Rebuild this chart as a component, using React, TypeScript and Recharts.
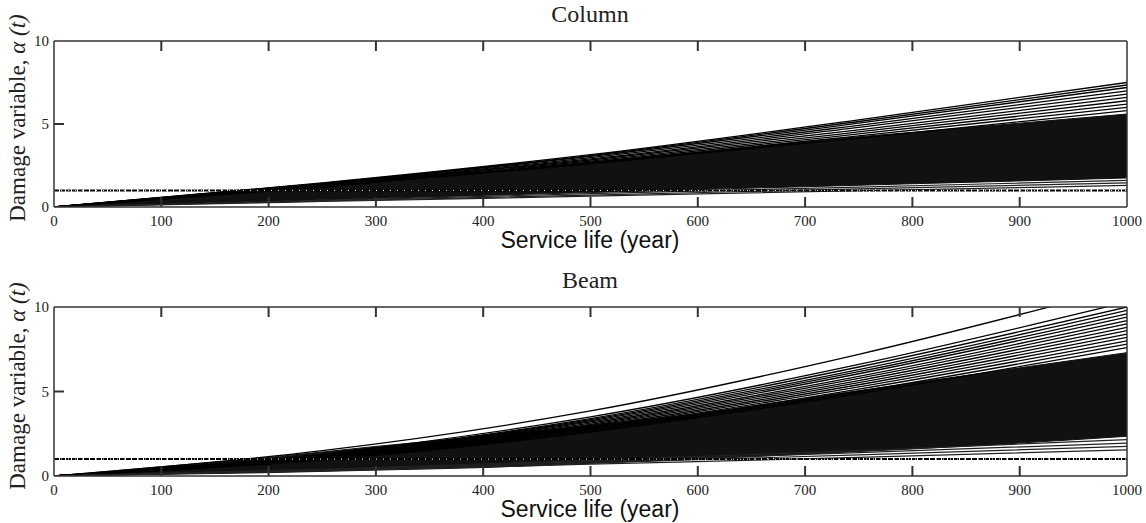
import React from 'react'
import { ComposedChart, Area, Line, XAxis, YAxis, ReferenceLine } from 'recharts'

// sampling years for the band envelopes
const years = [0, 100, 200, 300, 400, 500, 600, 700, 800, 900, 1000]
// sampling years for the individual outlying paths
const pathYears = [0, 250, 500, 750, 1000]
const xTicks = [0, 100, 200, 300, 400, 500, 600, 700, 800, 900, 1000]
const yTicks = [0, 5, 10]
const threshold = [1, 1]

// Column: dense fan of simulations
const columnBandLow = [0, 0.17, 0.35, 0.52, 0.7, 0.87, 1.05, 1.22, 1.4, 1.57, 1.75]
const columnBandHigh = [0, 0.5, 0.95, 1.45, 2.05, 2.7, 3.3, 3.95, 4.5, 5.05, 5.6]
const columnUpperPaths = [
    [0, 1.45, 3.15, 5.25, 7.5],
    [0, 1.42, 3.1, 5.15, 7.35],
    [0, 1.4, 3.05, 5.05, 7.2],
    [0, 1.37, 2.98, 4.92, 7.0],
    [0, 1.34, 2.9, 4.8, 6.8],
    [0, 1.31, 2.83, 4.65, 6.6],
    [0, 1.28, 2.76, 4.52, 6.4],
    [0, 1.25, 2.7, 4.4, 6.2],
    [0, 1.22, 2.65, 4.28, 6.0],
    [0, 1.2, 2.6, 4.15, 5.8],
]
const columnLowerPaths = [
    [0, 0.33, 0.65, 0.98, 1.3],
    [0, 0.36, 0.72, 1.09, 1.45],
    [0, 0.4, 0.8, 1.2, 1.6],
]

// Beam: dense fan of simulations
const beamBandLow = [0, 0.1, 0.2, 0.35, 0.5, 0.75, 1.0, 1.3, 1.6, 1.95, 2.35]
const beamBandHigh = [0, 0.55, 1.1, 1.75, 2.35, 3.0, 3.7, 4.6, 5.5, 6.4, 7.3]
const beamUpperPaths = [
    [0, 1.5, 3.85, 7.2, 11.2],
    [0, 1.3, 3.5, 6.6, 10.3],
    [0, 1.25, 3.4, 6.45, 10.0],
    [0, 1.22, 3.33, 6.3, 9.8],
    [0, 1.2, 3.27, 6.17, 9.6],
    [0, 1.18, 3.2, 6.05, 9.4],
    [0, 1.15, 3.13, 5.9, 9.2],
    [0, 1.13, 3.06, 5.78, 9.0],
    [0, 1.1, 3.0, 5.65, 8.8],
    [0, 1.08, 2.93, 5.52, 8.6],
    [0, 1.05, 2.86, 5.4, 8.4],
    [0, 1.03, 2.8, 5.27, 8.2],
    [0, 1.0, 2.73, 5.14, 8.0],
    [0, 0.98, 2.66, 5.0, 7.8],
    [0, 0.95, 2.6, 4.88, 7.6],
]
const beamLowerPaths = [
    [0, 0.3, 0.7, 1.1, 1.55],
    [0, 0.33, 0.78, 1.25, 1.75],
    [0, 0.37, 0.86, 1.38, 1.95],
    [0, 0.4, 0.93, 1.5, 2.15],
]

const serif = 'Liberation Serif'
const sans = 'Liberation Sans'
const frame = '#333'

const BottomLabel = (props: any) => {
    const { x, y, payload } = props
    return (
        <text x={x} y={y + 19} textAnchor="middle" fontFamily={serif} fontSize={15} fill="#222">
            {payload.value}
        </text>
    )
}

const LeftLabel = (props: any) => {
    const { x, y, payload } = props
    return (
        <text x={x - 5} y={y + 5} textAnchor="end" fontFamily={serif} fontSize={15} fill="#222">
            {payload.value}
        </text>
    )
}

interface PanelProps {
    title: string
    top: number
    height: number
    plotTop: number
    plotBottom: number
    bandLow: number[]
    bandHigh: number[]
    upperPaths: number[][]
    lowerPaths: number[][]
}

function Panel({ title, top, height, plotTop, plotBottom, bandLow, bandHigh, upperPaths, lowerPaths }: PanelProps) {
    const bandData = years.map((year, i) => ({ year, band: [bandLow[i], bandHigh[i]] }))
    const toPath = (vals: number[]) => pathYears.map((year, i) => ({ year, v: vals[i] }))
    const thresholdData = [{ year: 0, v: threshold[0] }, { year: 1000, v: threshold[1] }]
    // tick length of 10px expressed in axis units
    const tickY = (10 / (plotBottom - plotTop)) * 10
    const tickX = (10 / 1073) * 1000
    const innerX = xTicks.filter((t) => t > 0 && t < 1000)
    const innerY = yTicks.filter((t) => t > 0 && t < 10)

    return (
        <div style={{ position: 'absolute', left: 0, top, width: 1146, height }}>
            <div style={{ position: 'absolute', left: 0, width: 1180, top: plotTop - 40, textAlign: 'center', fontFamily: serif, fontSize: 24, color: '#222' }}>
                {title}
            </div>
            <ComposedChart
                width={1146}
                height={height}
                data={bandData}
                margin={{ top: plotTop, right: 19, bottom: height - plotBottom - 30, left: 14 }}
            >
                <XAxis
                    xAxisId="b"
                    dataKey="year"
                    type="number"
                    domain={[0, 1000]}
                    ticks={xTicks}
                    height={30}
                    tickSize={0}
                    tickMargin={0}
                    tickLine={false}
                    tick={<BottomLabel />}
                    stroke={frame}
                    strokeWidth={1.5}
                    allowDataOverflow
                />
                <XAxis
                    xAxisId="t"
                    orientation="top"
                    mirror
                    dataKey="year"
                    type="number"
                    domain={[0, 1000]}
                    height={10}
                    tick={false}
                    tickLine={false}
                    stroke={frame}
                    strokeWidth={1.5}
                />
                <YAxis
                    yAxisId="l"
                    type="number"
                    domain={[0, 10]}
                    ticks={yTicks}
                    width={40}
                    tickSize={0}
                    tickMargin={0}
                    tickLine={false}
                    tick={<LeftLabel />}
                    stroke={frame}
                    strokeWidth={1.5}
                    allowDataOverflow
                />
                <YAxis
                    yAxisId="r"
                    orientation="right"
                    mirror
                    type="number"
                    domain={[0, 10]}
                    width={10}
                    tick={false}
                    tickLine={false}
                    stroke={frame}
                    strokeWidth={1.5}
                />
                <Area
                    xAxisId="b"
                    yAxisId="l"
                    type="monotone"
                    dataKey="band"
                    fill="#111"
                    fillOpacity={1}
                    stroke="#111"
                    isAnimationActive={false}
                />
                {upperPaths.map((p, i) => (
                    <Line
                        key={'u' + i}
                        xAxisId="b"
                        yAxisId="l"
                        data={toPath(p)}
                        dataKey="v"
                        type="monotone"
                        stroke="#000"
                        strokeWidth={1.3}
                        dot={false}
                        isAnimationActive={false}
                    />
                ))}
                {lowerPaths.map((p, i) => (
                    <Line
                        key={'l' + i}
                        xAxisId="b"
                        yAxisId="l"
                        data={toPath(p)}
                        dataKey="v"
                        type="monotone"
                        stroke="#222"
                        strokeWidth={1.2}
                        dot={false}
                        isAnimationActive={false}
                    />
                ))}
                <Line
                    xAxisId="b"
                    yAxisId="l"
                    data={thresholdData}
                    dataKey="v"
                    type="linear"
                    stroke="#000"
                    strokeWidth={2}
                    strokeDasharray="5 1"
                    dot={false}
                    isAnimationActive={false}
                />
                <Line
                    xAxisId="b"
                    yAxisId="l"
                    data={thresholdData}
                    dataKey="v"
                    type="linear"
                    stroke="#fff"
                    strokeWidth={1}
                    strokeDasharray="1 6"
                    dot={false}
                    isAnimationActive={false}
                />
                {/* inward tick marks on bottom, top and left edges */}
                {innerX.map((t) => (
                    <ReferenceLine
                        key={'xb' + t}
                        xAxisId="b"
                        yAxisId="l"
                        segment={[{ x: t, y: 0 }, { x: t, y: tickY }]}
                        stroke={frame}
                        strokeWidth={2}
                        ifOverflow="visible"
                    />
                ))}
                {innerX.map((t) => (
                    <ReferenceLine
                        key={'xt' + t}
                        xAxisId="b"
                        yAxisId="l"
                        segment={[{ x: t, y: 10 }, { x: t, y: 10 - tickY }]}
                        stroke={frame}
                        strokeWidth={2}
                        ifOverflow="visible"
                    />
                ))}
                {innerY.map((t) => (
                    <ReferenceLine
                        key={'yl' + t}
                        xAxisId="b"
                        yAxisId="l"
                        segment={[{ x: 0, y: t }, { x: tickX, y: t }]}
                        stroke={frame}
                        strokeWidth={2}
                        ifOverflow="visible"
                    />
                ))}
            </ComposedChart>
            <div style={{ position: 'absolute', left: 0, width: 1180, top: plotBottom + 20, textAlign: 'center', fontFamily: sans, fontSize: 23, color: '#111' }}>
                Service life (year)
            </div>
            <div
                style={{
                    position: 'absolute',
                    left: 18 - 150,
                    top: (plotTop + plotBottom) / 2 - 6 - 13,
                    width: 300,
                    height: 26,
                    textAlign: 'center',
                    fontFamily: serif,
                    fontSize: 23,
                    color: '#222',
                    transform: 'rotate(-90deg)',
                    whiteSpace: 'nowrap',
                }}
            >
                Damage variable, <i>α (t)</i>
            </div>
        </div>
    )
}

export default function App() {
    return (
        <div style={{ position: 'absolute', left: 0, top: 0, width: 1146, height: 523, background: '#fff' }}>
            <Panel
                title="Column"
                top={0}
                height={260}
                plotTop={41}
                plotBottom={207}
                bandLow={columnBandLow}
                bandHigh={columnBandHigh}
                upperPaths={columnUpperPaths}
                lowerPaths={columnLowerPaths}
            />
            <Panel
                title="Beam"
                top={260}
                height={263}
                plotTop={47}
                plotBottom={216}
                bandLow={beamBandLow}
                bandHigh={beamBandHigh}
                upperPaths={beamUpperPaths}
                lowerPaths={beamLowerPaths}
            />
        </div>
    )
}
